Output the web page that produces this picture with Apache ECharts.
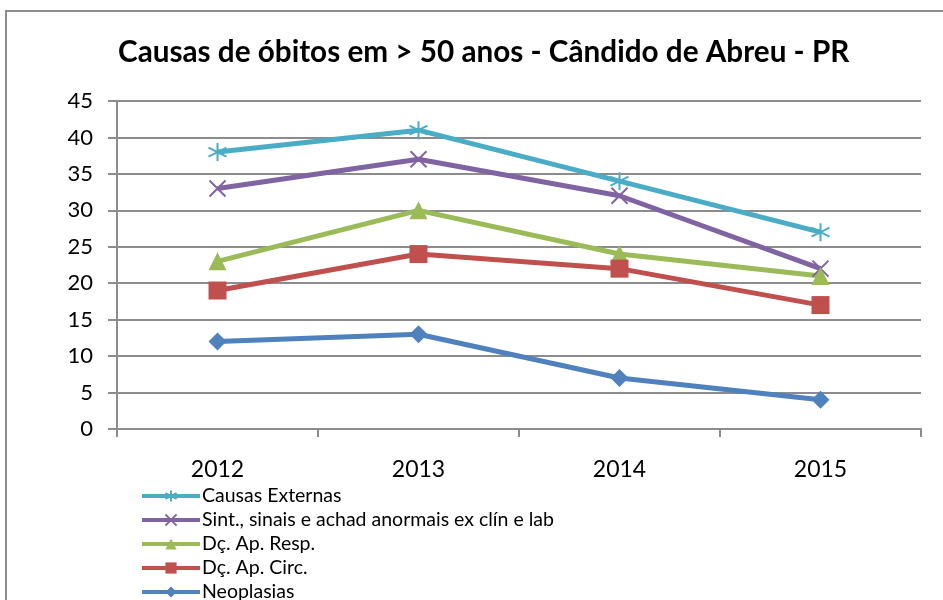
<!DOCTYPE html>
<html>
<head>
<meta charset="utf-8">
<script src="https://cdn.jsdelivr.net/npm/echarts@6/dist/echarts.min.js"></script>
<style>
  html, body { margin: 0; padding: 0; background: #fff; }
  #chart { width: 943px; height: 600px; }
</style>
</head>
<body>
<div id="chart"></div>
<script>
var years = ['2012', '2013', '2014', '2015'];
var seriesNames = [
  'Causas Externas',
  'Sint., sinais e achad anormais ex clín e lab',
  'Dç. Ap. Resp.',
  'Dç. Ap. Circ.',
  'Neoplasias'
];
var causasExternas = [38, 41, 34, 27];
var sintSinais = [33, 37, 32, 22];
var apResp = [23, 30, 24, 21];
var apCirc = [19, 24, 22, 17];
var neoplasias = [12, 13, 7, 4];

var chart = echarts.init(document.getElementById('chart'));
var font = 'Lato';

function lineSeries(name, data, color, symbol, size, stroked) {
  return {
    name: name,
    type: 'line',
    data: data,
    symbol: symbol,
    symbolSize: size,
    lineStyle: { color: color, width: 5 },
    itemStyle: stroked
      ? { color: color, borderColor: color, borderWidth: 2 }
      : { color: color, borderWidth: 0 },
    emphasis: { disabled: true }
  };
}

var option = {
  backgroundColor: '#fff',
  animation: false,
  textStyle: { fontFamily: font },
  title: {
    text: 'Causas de óbitos em > 50 anos - Cândido de Abreu - PR',
    left: 113,
    top: 32,
    textStyle: { fontFamily: font, fontSize: 29.7, fontWeight: 'bold', color: '#000' }
  },
  graphic: [{
    type: 'rect',
    shape: { x: 6, y: 11, width: 1200, height: 1200 },
    style: { fill: 'none', stroke: '#8c8c8c', lineWidth: 2 },
    silent: true
  }],
  legend: {
    orient: 'vertical',
    left: 135,
    top: 481,
    height: 140,
    itemGap: 4,
    itemWidth: 58,
    itemHeight: 14,
    data: seriesNames,
    lineStyle: { width: 4 },
    textStyle: { fontFamily: font, fontSize: 19.5, lineHeight: 20, color: '#000', padding: [0, 0, 0, -3] }
  },
  grid: { left: 117, right: 22, top: 101, bottom: 171 },
  xAxis: {
    type: 'category',
    data: years,
    boundaryGap: true,
    axisLine: { lineStyle: { color: '#8c8c8c', width: 2 } },
    axisTick: { show: true, length: 8, lineStyle: { color: '#8c8c8c', width: 2 } },
    axisLabel: { fontFamily: font, fontSize: 23, color: '#000', margin: 29 }
  },
  yAxis: {
    type: 'value',
    min: 0,
    max: 45,
    interval: 5,
    axisLine: { show: true, lineStyle: { color: '#8c8c8c', width: 2 } },
    axisTick: { show: true, length: 9, lineStyle: { color: '#8c8c8c', width: 2 } },
    axisLabel: { fontFamily: font, fontSize: 22, color: '#000', margin: 24 },
    splitLine: { lineStyle: { color: '#8c8c8c', width: 2 } }
  },
  series: [
    lineSeries(seriesNames[0], causasExternas, '#4bacc6',
      'path://M5,0L5,10M0.7,2.5L9.3,7.5M0.7,7.5L9.3,2.5', 18, true),
    lineSeries(seriesNames[1], sintSinais, '#8064a2',
      'path://M0,0L10,10M10,0L0,10', 16, true),
    lineSeries(seriesNames[2], apResp, '#9bbb59', 'triangle', 18, false),
    lineSeries(seriesNames[3], apCirc, '#c0504d', 'rect', 18, false),
    lineSeries(seriesNames[4], neoplasias, '#4f81bd', 'diamond', 18, false)
  ]
};

chart.setOption(option);
</script>
</body>
</html>
